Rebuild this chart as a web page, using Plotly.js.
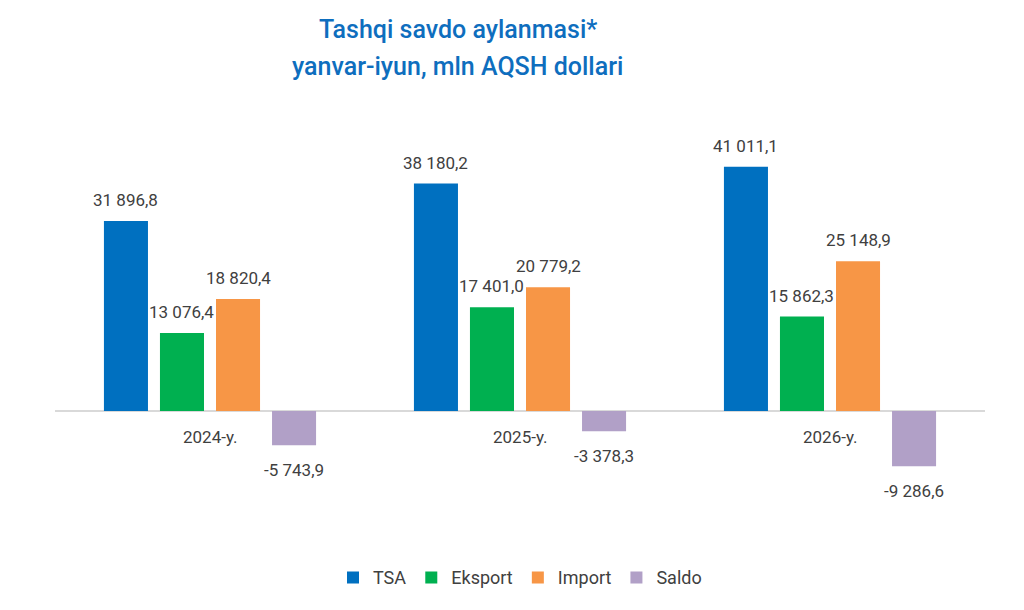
<!DOCTYPE html>
<html>
<head>
<meta charset="utf-8">
<script src="https://cdn.plot.ly/plotly-3.0.1.min.js"></script>
<style>html,body{margin:0;padding:0;background:#fff;}#chart{width:1024px;height:610px;}</style>
</head>
<body>
<div id="chart"></div>
<script>
var categories = ["2024-y.", "2025-y.", "2026-y."];
var seriesNames = ["TSA", "Eksport", "Import", "Saldo"];
var tsa = [31896.8, 38180.2, 41011.1];
var eksport = [13076.4, 17401.0, 15862.3];
var importV = [18820.4, 20779.2, 25148.9];
var saldo = [-5743.9, -3378.3, -9286.6];
var colors = ["#0070C0", "#00B050", "#F79646", "#B1A0C7"];
var titleLines = ["Tashqi savdo aylanmasi*", "yanvar-iyun, mln AQSH dollari"];

var seriesValues = [tsa, eksport, importV, saldo];
var FONT = "Roboto, 'Open Sans', sans-serif";
var TXT = "#404040";
var bargap = 0.277;

function fmt(v) {
  var neg = v < 0;
  var s = Math.abs(v).toFixed(1);
  var parts = s.split(".");
  var ip = parts[0].replace(/\B(?=(\d{3})+(?!\d))/g, " ");
  return (neg ? "-" : "") + ip + "," + parts[1];
}

var traces = seriesNames.map(function (n, j) {
  return {
    type: "bar",
    name: n,
    x: categories,
    y: seriesValues[j],
    marker: { color: colors[j] },
    hoverinfo: "none"
  };
});

var annotations = [];
var slot = (1 - bargap) / seriesNames.length;
seriesValues.forEach(function (vals, j) {
  vals.forEach(function (v, i) {
    var xpos = i + (j - (seriesNames.length - 1) / 2) * slot;
    annotations.push({
      x: xpos, y: v, xref: "x", yref: "y",
      text: fmt(v), showarrow: false,
      yanchor: v >= 0 ? "bottom" : "top",
      yshift: v >= 0 ? 9 : -13,
      font: { family: FONT, size: 17, color: TXT }
    });
  });
});
categories.forEach(function (c, i) {
  annotations.push({
    x: i, y: 0, xref: "x", yref: "y",
    text: c, showarrow: false, yanchor: "top", yshift: -14,
    font: { family: FONT, size: 17, color: TXT }
  });
});
annotations.push({
  x: 0.433, y: 1.163, xref: "paper", yref: "paper", text: titleLines[0],
  showarrow: false, yanchor: "middle",
  font: { family: FONT, size: 25, color: "#0E6EBE", weight: 500 }
});
annotations.push({
  x: 0.433, y: 1.077, xref: "paper", yref: "paper", text: titleLines[1],
  showarrow: false, yanchor: "middle",
  font: { family: FONT, size: 25, color: "#0E6EBE", weight: 500 }
});

var layout = {
  width: 1024, height: 610,
  margin: { l: 55, r: 39, t: 100, b: 80 },
  paper_bgcolor: "#fff", plot_bgcolor: "#fff",
  barmode: "group", bargap: bargap, bargroupgap: 0.214,
  xaxis: { showticklabels: false, showgrid: false, zeroline: false, showline: false, ticks: "", range: [-0.5, 2.5] },
  yaxis: { range: [-19976, 52208], showgrid: false, showticklabels: false, zeroline: true, zerolinecolor: "#D9D9D9", zerolinewidth: 1.5, ticks: "" },
  showlegend: true,
  legend: {
    orientation: "h", x: 0.5, xanchor: "center", y: -0.068, yanchor: "top",
    font: { family: FONT, size: 18, color: TXT }, itemwidth: 30, traceorder: "normal"
  },
  annotations: annotations,
  font: { family: FONT }
};

Plotly.newPlot("chart", traces, layout, { displayModeBar: false, staticPlot: true });
</script>
</body>
</html>
